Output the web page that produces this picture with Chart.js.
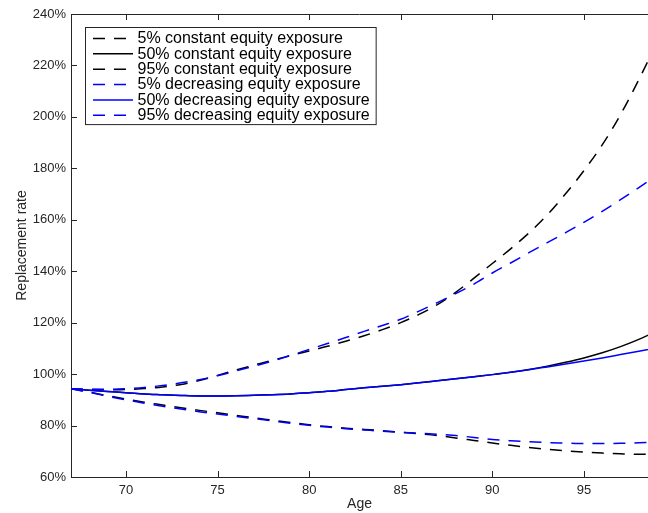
<!DOCTYPE html>
<html>
<head>
<meta charset="utf-8">
<script src="https://cdn.jsdelivr.net/npm/chart.js@4.4.1/dist/chart.umd.min.js"></script>
<style>
  html, body { margin: 0; padding: 0; background: #fff; }
  #wrap { width: 648px; height: 513px; }
</style>
</head>
<body>
<div id="wrap"><canvas id="chart-replacement"></canvas></div>
<script>
// Replacement rate by age, constant vs decreasing equity exposure
const ages = [67, 68, 69, 70, 71, 72, 73, 74, 75, 76, 77, 78, 79, 80, 81, 82, 83,
  84, 85, 86, 87, 88, 89, 90, 91, 92, 93, 94, 95, 96, 97, 98, 99];

const p5Constant = [94.3, 93.0, 91.6, 90.3, 89.1, 88.0, 86.9, 85.9, 85.0, 84.0, 83.0,
  82.1, 81.2, 80.3, 79.6, 79.0, 78.5, 78.0, 77.4, 76.8, 76.1, 75.2, 74.2, 73.2, 72.3,
  71.5, 70.8, 70.2, 69.7, 69.3, 69.0, 68.8, 68.9];
const p50Constant = [94.3, 93.7, 93.2, 92.8, 92.3, 92.0, 91.7, 91.5, 91.5, 91.6, 91.8,
  92.0, 92.3, 92.8, 93.3, 94.0, 94.7, 95.3, 95.9, 96.6, 97.4, 98.2, 99.0, 99.8, 100.7,
  101.8, 103.1, 104.6, 106.3, 108.3, 110.7, 113.5, 116.8];
const p95Constant = [94.3, 94.0, 93.9, 94.0, 94.4, 95.0, 96.0, 97.5, 99.5, 101.6, 103.5,
  105.4, 107.2, 109.0, 110.8, 112.8, 114.9, 117.3, 120.0, 123.2, 127.0, 131.8, 137.3,
  143.0, 148.7, 154.9, 161.9, 170.1, 179.1, 189.1, 200.9, 214.5, 229.0];

const p5Decreasing = [94.3, 92.9, 91.4, 90.0, 88.7, 87.5, 86.4, 85.4, 84.5, 83.6, 82.7,
  81.8, 80.9, 80.1, 79.4, 78.8, 78.3, 77.8, 77.4, 77.0, 76.6, 76.1, 75.4, 74.6, 74.1,
  73.7, 73.4, 73.2, 73.0, 73.0, 73.1, 73.3, 73.5];
const p50Decreasing = [94.3, 93.7, 93.2, 92.8, 92.3, 92.0, 91.7, 91.5, 91.5, 91.6, 91.8,
  92.0, 92.3, 92.8, 93.3, 94.0, 94.7, 95.3, 95.9, 96.6, 97.4, 98.2, 99.0, 99.8, 100.7,
  101.7, 102.8, 103.9, 105.1, 106.3, 107.6, 108.9, 110.2];
const p95Decreasing = [94.3, 94.1, 94.1, 94.3, 94.8, 95.6, 96.6, 97.8, 99.4, 101.2, 103.1,
  105.1, 107.3, 109.6, 111.9, 114.2, 116.6, 118.9, 121.3, 124.5, 127.8, 131.3, 135.0,
  139.3, 143.2, 147.2, 151.1, 155.0, 159.0, 163.3, 167.8, 172.5, 177.3];

const xTicks = [70, 75, 80, 85, 90, 95];
const yTicks = [60, 80, 100, 120, 140, 160, 180, 200, 220, 240];

const axisColor = "#262626";
const dash = [12, 9];

Chart.defaults.font.family = "'Liberation Sans', Arial, sans-serif";
Chart.defaults.color = axisColor;

function series(label, values, color, dashed, order) {
  return {
    label: label,
    data: values.map((v, i) => ({ x: ages[i], y: v })),
    borderColor: color,
    backgroundColor: color,
    borderWidth: 1.5,
    borderDash: dashed ? dash : [],
    pointRadius: 0,
    cubicInterpolationMode: "monotone",
    fill: false,
    order: order,
  };
}

// inward tick marks on left, bottom and top, plus the top frame line
const frameTicks = {
  id: "frameTicks",
  afterDatasetsDraw(chart) {
    const { ctx, chartArea: a, scales } = chart;
    ctx.save();
    ctx.strokeStyle = axisColor;
    ctx.lineWidth = 1;
    ctx.beginPath();
    ctx.moveTo(a.left, a.top + 0.5);
    ctx.lineTo(a.right, a.top + 0.5);
    scales.x.ticks.forEach((t) => {
      const px = Math.round(scales.x.getPixelForValue(t.value)) + 0.5;
      ctx.moveTo(px, a.bottom);
      ctx.lineTo(px, a.bottom - 6);
      ctx.moveTo(px, a.top);
      ctx.lineTo(px, a.top + 6);
    });
    scales.y.ticks.forEach((t) => {
      const py = Math.round(scales.y.getPixelForValue(t.value)) + 0.5;
      ctx.moveTo(a.left, py);
      ctx.lineTo(a.left + 6, py);
    });
    ctx.stroke();
    ctx.restore();
  },
};

// boxed legend in the upper left corner of the plot
const boxLegend = {
  id: "boxLegend",
  afterDraw(chart) {
    const { ctx } = chart;
    const sets = chart.data.datasets;
    const x0 = 85, y0 = 27, rowH = 15.35;
    const lineX1 = 93, lineX2 = 133, textX = 137.5;
    ctx.save();
    ctx.font = "16px 'Liberation Sans', Arial, sans-serif";
    let maxW = 0;
    sets.forEach((d) => { maxW = Math.max(maxW, ctx.measureText(d.label).width); });
    const w = textX + maxW + 6 - x0;
    const h = rowH * sets.length + 5;
    ctx.fillStyle = "#fff";
    ctx.fillRect(x0, y0, w, h);
    ctx.strokeStyle = axisColor;
    ctx.lineWidth = 1;
    ctx.strokeRect(x0 + 0.5, y0 + 0.5, w, h);
    ctx.textBaseline = "middle";
    sets.forEach((d, i) => {
      const y = y0 + 11.5 + i * rowH;
      ctx.strokeStyle = d.borderColor;
      ctx.lineWidth = 1.5;
      ctx.setLineDash(d.borderDash);
      ctx.beginPath();
      ctx.moveTo(lineX1, y);
      ctx.lineTo(lineX2, y);
      ctx.stroke();
      ctx.setLineDash([]);
      ctx.fillStyle = "#000";
      ctx.fillText(d.label, textX, y + 0.5);
    });
    ctx.restore();
  },
};

const ctx = document.getElementById("chart-replacement").getContext("2d");
new Chart(ctx, {
  type: "line",
  data: {
    datasets: [
      series("5% constant equity exposure", p5Constant, "#000000", true, 2),
      series("50% constant equity exposure", p50Constant, "#000000", false, 2),
      series("95% constant equity exposure", p95Constant, "#000000", true, 2),
      series("5% decreasing equity exposure", p5Decreasing, "#0000ff", true, 1),
      series("50% decreasing equity exposure", p50Decreasing, "#0000ff", false, 1),
      series("95% decreasing equity exposure", p95Decreasing, "#0000ff", true, 1),
    ],
  },
  plugins: [frameTicks, boxLegend],
  options: {
    responsive: true,
    maintainAspectRatio: false,
    animation: false,
    layout: { padding: { top: 14, right: 0, bottom: 0, left: 0 } },
    plugins: {
      legend: { display: false },
      tooltip: { enabled: false },
    },
    scales: {
      x: {
        type: "linear",
        min: 67,
        max: 98.5,
        afterFit: (s) => { s.height = 36; },
        afterBuildTicks: (s) => { s.ticks = xTicks.map((v) => ({ value: v })); },
        grid: { display: false, drawTicks: false },
        border: { display: true, color: axisColor, width: 1 },
        ticks: { padding: 6, font: { size: 13 }, color: axisColor },
        title: {
          display: true,
          text: "Age",
          color: axisColor,
          font: { size: 14 },
          padding: { top: 0, bottom: 0 },
        },
      },
      y: {
        min: 60,
        max: 240,
        afterFit: (s) => { s.width = 71; },
        afterBuildTicks: (s) => { s.ticks = yTicks.map((v) => ({ value: v })); },
        grid: { display: false, drawTicks: false },
        border: { display: true, color: axisColor, width: 1 },
        ticks: {
          padding: 5,
          font: { size: 13 },
          color: axisColor,
          callback: (v) => v + "%",
        },
        title: {
          display: true,
          text: "Replacement rate",
          color: axisColor,
          font: { size: 14 },
          padding: { top: 14, bottom: 0 },
        },
      },
    },
  },
});
</script>
</body>
</html>
